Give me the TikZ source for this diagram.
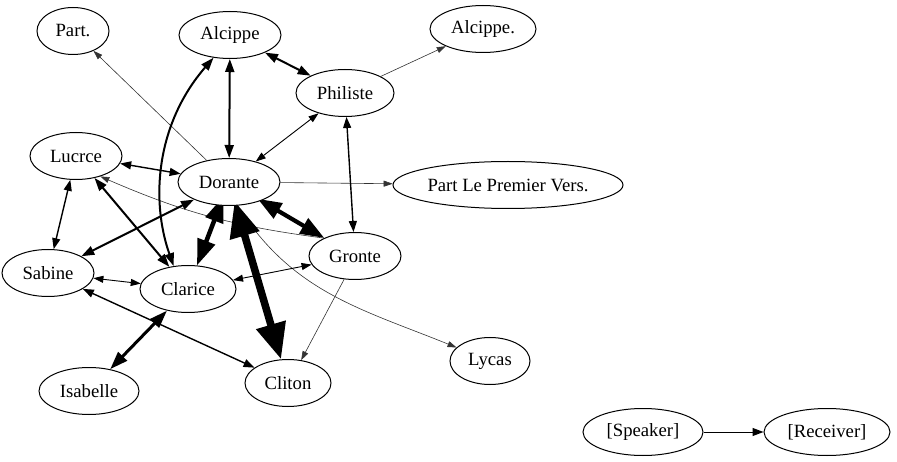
\documentclass[tikz,border=0pt]{standalone}
\usepackage{fontspec}
\setmainfont{Liberation Serif}
\usetikzlibrary{shapes.geometric,arrows.meta}
\pgfdeclarelayer{edges}
\pgfsetlayers{edges,main}
\tikzset{
  nd/.style={draw, fill=white, ellipse, line width=1pt, inner sep=0pt, minimum height=47pt, font=\fontsize{18.7}{20}\selectfont},
  thin/.style={line width=0.6pt, draw=black!80, -{Triangle[length=9pt,width=6pt]}},
  ea/.style={line width=0.9pt, {Triangle[length=10pt,width=7pt]}-{Triangle[length=10pt,width=7pt]}},
  eb/.style={line width=1.4pt, {Triangle[length=11pt,width=8pt]}-{Triangle[length=11pt,width=8pt]}},
  ec/.style={line width=2pt, {Triangle[length=13pt,width=9pt]}-{Triangle[length=13pt,width=9pt]}},
  ed/.style={line width=3pt, {Triangle[length=18pt,width=12pt]}-{Triangle[length=18pt,width=12pt]}},
  ee/.style={line width=4.2pt, {Triangle[length=24pt,width=17pt]}-{Triangle[length=24pt,width=17pt]}},
  ef/.style={line width=4.5pt, {Triangle[length=26pt,width=18pt]}-{Triangle[length=26pt,width=18pt]}},
  eg/.style={line width=7.5pt, {Triangle[length=36pt,width=29pt]}-{Triangle[length=36pt,width=29pt]}},
  solo/.style={line width=1pt, -{Triangle[length=11pt,width=8pt]}}
}
\begin{document}
\begin{tikzpicture}[x=1pt,y=-1pt]
\useasboundingbox (0,0) rectangle (897,462);
\node[nd, minimum width=72pt] (part) at (73,31) {Part.};
\node[nd, minimum width=102pt] (alc) at (230,35) {Alcippe};
\node[nd, minimum width=106pt] (alcd) at (483,29) {Alcippe.};
\node[nd, minimum width=98pt] (phi) at (345,93) {Philiste};
\node[nd, minimum width=92pt] (luc) at (76,156) {Lucrce};
\node[nd, minimum width=102pt] (dor) at (229,182) {Dorante};
\node[nd, minimum width=230pt] (plv) at (508,185) {Part Le Premier Vers.};
\node[nd, minimum width=92pt] (gro) at (355,256) {Gronte};
\node[nd, minimum width=92pt] (sab) at (48,273) {Sabine};
\node[nd, minimum width=96pt] (cla) at (188,289) {Clarice};
\node[nd, minimum width=80pt] (lyc) at (490,361) {Lycas};
\node[nd, minimum width=86pt] (cli) at (288,383) {Cliton};
\node[nd, minimum width=100pt] (isa) at (89,391) {Isabelle};
\node[nd, minimum width=120pt] (spk) at (643,432) {[Speaker]};
\node[nd, minimum width=126pt] (rec) at (827,432) {[Receiver]};

\begin{pgfonlayer}{edges}
\draw[thin] (dor) -- (part);
\draw[thin] (phi) -- (alcd);
\draw[thin] (dor) -- (plv);
\draw[thin] (gro.150) to[bend left=8] (luc.-40);
\draw[thin] (dor.-70) to[out=-58, in=158] (lyc);
\draw[thin] (gro.-115) -- (cli.60);

\draw[ec] (alc) -- (dor);
\draw[ec] (alc) -- (phi);
\draw[ea] (phi) -- (dor);
\draw[eb] (phi) -- (gro);
\draw[eb] (luc) -- (dor);
\draw[eb] (luc) -- (sab);
\draw[ec] (luc) -- (cla);
\draw[ec] (dor) -- (sab);
\draw[ec] (cla.122) .. controls +(-23,-65) and +(-58,67) .. (alc.234);
\draw[ef, shorten <=-10pt] (dor) -- (cla);
\draw[eg, shorten <=-5pt] (dor) -- (cli);
\draw[ee, shorten <=-4pt] (dor) -- (gro);
\draw[ea] (gro) -- (cla);
\draw[ea] (sab) -- (cla);
\draw[eb] (sab) -- (cli);
\draw[ed] (cla) -- (isa);
\draw[solo] (spk) -- (rec);
\end{pgfonlayer}
\end{tikzpicture}
\end{document}
